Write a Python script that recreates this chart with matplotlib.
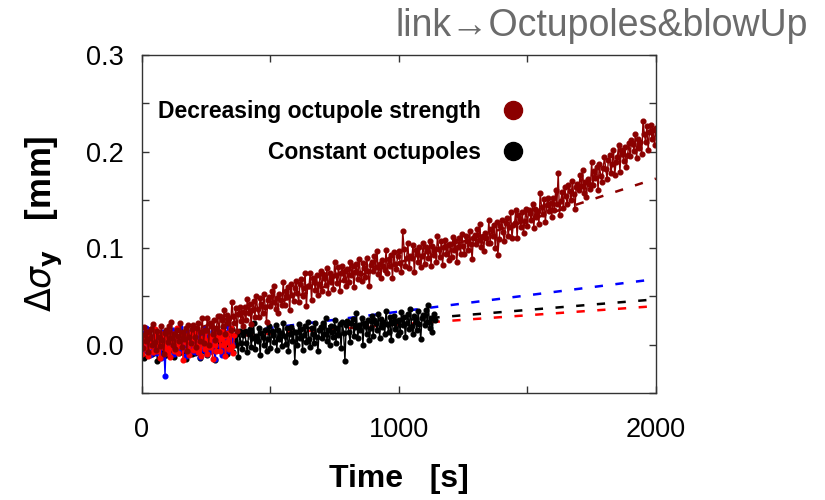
import numpy as np
import matplotlib
matplotlib.use("Agg")
import matplotlib.pyplot as plt
from matplotlib.lines import Line2D
from matplotlib.ticker import MultipleLocator

plt.rcParams["font.family"] = ["Liberation Sans", "DejaVu Sans"]

# sampling step of the logged beam-size growth [s]
STEP = 5

# growth of vertical beam size in um, decreasing octupole strength, 0 .. 2000 s
dsig_decr = [
    10, -3, 18, 4, 13, -8, 7, 16, 0, 21, 3, -5, 14, 8, -1, 19, 5, -10, 12, 15,
    3, 19, 7, 24, 0, 11, -4, 15, 9, 4, 22, -2, 13, 6, 17, -7, 20, 8, 2, 16,
    20, 8, -2, 17, 22, 4, 13, 28, 2, 15, 15, 28, 0, 23, 19, 11, 26, 5, 17, 30,
    13, 30, 26, 19, 36, 11, 31, 22, 28, 15, 44, 30, 22, 38, 14, 32, 39, 25, 34, 19,
    39, 26, 47, 33, 42, 21, 36, 45, 29, 50, 37, 29, 48, 42, 33, 53, 39, 24, 46, 49,
    40, 56, 44, 61, 37, 48, 33, 52, 46, 41, 65, 41, 56, 49, 60, 36, 63, 51, 45, 59,
    66, 54, 44, 63, 68, 50, 59, 74, 40, 61, 61, 74, 46, 69, 65, 57, 72, 51, 63, 76,
    56, 73, 69, 62, 79, 54, 74, 65, 71, 58, 86, 72, 64, 80, 56, 74, 81, 67, 76, 61,
    78, 65, 86, 72, 81, 60, 75, 84, 68, 89, 74, 66, 85, 79, 70, 90, 76, 61, 83, 86,
    76, 92, 80, 97, 73, 84, 69, 88, 82, 77, 98, 74, 89, 82, 93, 69, 96, 84, 78, 92,
    97, 85, 75, 118, 99, 81, 90, 105, 79, 92, 90, 103, 75, 98, 94, 86, 101, 80, 92, 105,
    84, 101, 97, 90, 107, 82, 102, 93, 99, 86, 113, 99, 91, 107, 83, 101, 108, 94, 103, 88,
    104, 91, 112, 98, 107, 86, 101, 110, 94, 115, 102, 94, 113, 107, 98, 118, 104, 89, 111, 114,
    104, 120, 108, 125, 101, 112, 97, 116, 110, 105, 129, 105, 120, 113, 124, 100, 127, 93, 109, 123,
    129, 117, 107, 126, 131, 113, 122, 137, 111, 124, 126, 139, 111, 134, 130, 122, 137, 116, 128, 141,
    123, 140, 136, 129, 146, 121, 141, 132, 138, 125, 157, 143, 135, 151, 127, 145, 152, 138, 147, 132,
    152, 139, 160, 146, 178, 134, 149, 158, 142, 163, 154, 146, 165, 159, 150, 170, 156, 141, 163, 166,
    160, 176, 164, 181, 157, 168, 153, 172, 166, 161, 189, 165, 180, 173, 184, 160, 187, 175, 169, 183,
    194, 182, 172, 191, 196, 178, 187, 202, 176, 189, 194, 207, 179, 202, 198, 190, 205, 184, 196, 209,
    195, 212, 208, 201, 218, 193, 213, 204, 210, 197, 232, 218, 210, 226, 202, 220, 227, 213, 222, 207,
    224,
]

# constant octupoles, 0 .. 1140 s
dsig_const = [
    8, -4, -14, 5, 10, -8, 1, 16, -10, 3, -2, 11, -17, 6, 2, -6, 9, -12, 0, 13,
    -11, 6, 2, -5, 12, -13, 7, -2, 4, -9, 15, 1, -7, 9, -15, 3, 10, -4, 5, -10,
    4, -9, 12, -2, 7, -14, 1, 10, -6, 15, -3, -11, 8, 2, -7, 13, -1, -16, 6, 9,
    -3, 13, 1, 18, -6, 5, -10, 9, 3, -2, 16, -8, 7, 0, 11, -13, 14, 2, -4, 10,
    14, 2, -8, 11, 16, -2, 7, 22, -4, 9, 4, 17, -11, 12, 8, 0, 15, -6, 6, 19,
    -3, 14, 10, 3, 20, -5, 15, 6, 12, -1, 23, 9, 1, 17, -7, 11, 18, 4, 13, -18,
    13, 0, 21, 7, 16, -5, 10, 19, 3, 24, 6, -2, 17, 11, 2, 22, 8, -7, 15, 18,
    7, 23, 11, 28, 4, 15, 0, 19, 13, 8, 26, 2, 17, 10, 21, -3, 24, 12, -17, 20,
    25, 13, 3, 22, 27, 9, 18, 33, 7, 20, 15, 28, 0, 23, 19, 11, 26, 5, 17, 30,
    9, 26, 22, 15, 32, 7, 27, 18, 24, 11, 35, 21, 13, 29, 5, 23, 30, 16, 25, 10,
    26, 13, 34, 20, 29, 8, 23, 32, 16, 37, 19, 11, 30, 24, 15, 35, 21, 6, 28, 31,
    20, 36, 24, 41, 17, 28, 13, 32, 26,
]

# short reference runs, 0 .. ~360 s
dsig_blue = [
    -4, 12, 0, 17, -7, 4, -11, 8, 2, -3, 15, -9, 6, -1, 10, -14, 13, 1, -32, 9,
    -8, 9, 5, -2, 15, -10, 10, 1, 7, -6, 18, 4, -4, 12, -12, 6, 13, -1, 8, -7,
    5, -8, 13, -1, 8, -13, 2, 11, -5, 16, -2, -10, 9, 3, -6, 14, 0, -15, 7, 10,
    11, -1, -11, 8, 13, -5, 4, 19, -7, 6, 1,
]
dsig_red = [
    -10, 7, 3, -4, 13, -12, 8, -1, 5, -8, 16, 2, -6, 10, -14, 4, 11, -3, 6, -9,
    9, -3, -13, 6, 11, -7, 2, 17, -9, 4, -1, 12, -16, 7, 3, -5, 10, -11, 1, 14,
    -5, 11, -1, 16, -8, 3, -12, 7, 1, -4, 14, -10, 5, -2, 9, -15, 12, 0, -6, 8,
    6, -7, 14, 0, 9, -12, 3, 12, -4, 17, -1, -9, 10,
]

# linear fits (extrapolated), in mm
fit_t = [0, 2000]
fit_decr = [-0.002, 0.172]
fit_blue = [0.0005, 0.068]
fit_black = [0.003, 0.047]
fit_red = [0.002, 0.040]

DARKRED = "#8b0000"

fig = plt.figure(figsize=(8.25, 5), dpi=100)
ax = fig.add_axes([0.172, 0.214, 0.623, 0.676])

dash = dict(lw=1.8, ls=(0, (3.3, 5.0)), zorder=1)
ax.plot(fit_t, fit_decr, color=DARKRED, **dash)
ax.plot(fit_t, fit_blue, color="blue", **dash)
ax.plot(fit_t, fit_black, color="black", **dash)
ax.plot(fit_t, fit_red, color="red", **dash)

pts = dict(lw=1.0, marker="o", ms=3.4, zorder=2)


def series(vals):
    # time axis and values converted um -> mm
    return np.arange(len(vals)) * STEP, np.array(vals) / 1000.0


for vals, col in [(dsig_const, "black"), (dsig_blue, "blue"),
                  (dsig_red, "red"), (dsig_decr, DARKRED)]:
    tt, yy = series(vals)
    ax.plot(tt, yy, color=col, **pts)

ax.set_xlim(0, 2000)
ax.set_ylim(-0.05, 0.3)
ax.xaxis.set_major_locator(MultipleLocator(1000))
ax.xaxis.set_minor_locator(MultipleLocator(500))
ax.yaxis.set_major_locator(MultipleLocator(0.1))
ax.yaxis.set_minor_locator(MultipleLocator(0.05))
ax.yaxis.set_major_formatter(lambda v, p: f"{v:.1f}")
ax.tick_params(which="both", direction="in", top=True, right=True,
               length=5, width=1, color="#333333", labelsize=19.5)
ax.tick_params(axis="x", pad=17)
ax.tick_params(axis="y", pad=13)
for s in ax.spines.values():
    s.set_color("#333333")
    s.set_linewidth(1)

ax.set_xlabel("Time   [s]", fontsize=23, fontweight="bold")
ax.xaxis.set_label_coords(0.5, -0.21)
ax.set_ylabel(r"$\Delta\sigma_{\mathbf{y}}$   [mm]", fontsize=25, fontweight="bold")
ax.yaxis.set_label_coords(-0.15, 0.5)

handles = [Line2D([], [], ls="none", marker="o", ms=13, color=DARKRED),
           Line2D([], [], ls="none", marker="o", ms=13, color="black")]
ax.legend(handles, ["Decreasing octupole strength", "Constant octupoles"],
          loc="upper left", bbox_to_anchor=(0.031, 0.867), frameon=False,
          borderpad=0, borderaxespad=0, markerfirst=False,
          handlelength=1.2, handletextpad=0.8, labelspacing=0.78,
          prop=dict(weight="bold", size=16.5))

fig.text(0.98, 0.948, "link\u2192Octupoles&blowUp", ha="right", va="center",
         fontsize=27, color="#6b6b6b")

fig.savefig("out.png", dpi=100, facecolor="white")
